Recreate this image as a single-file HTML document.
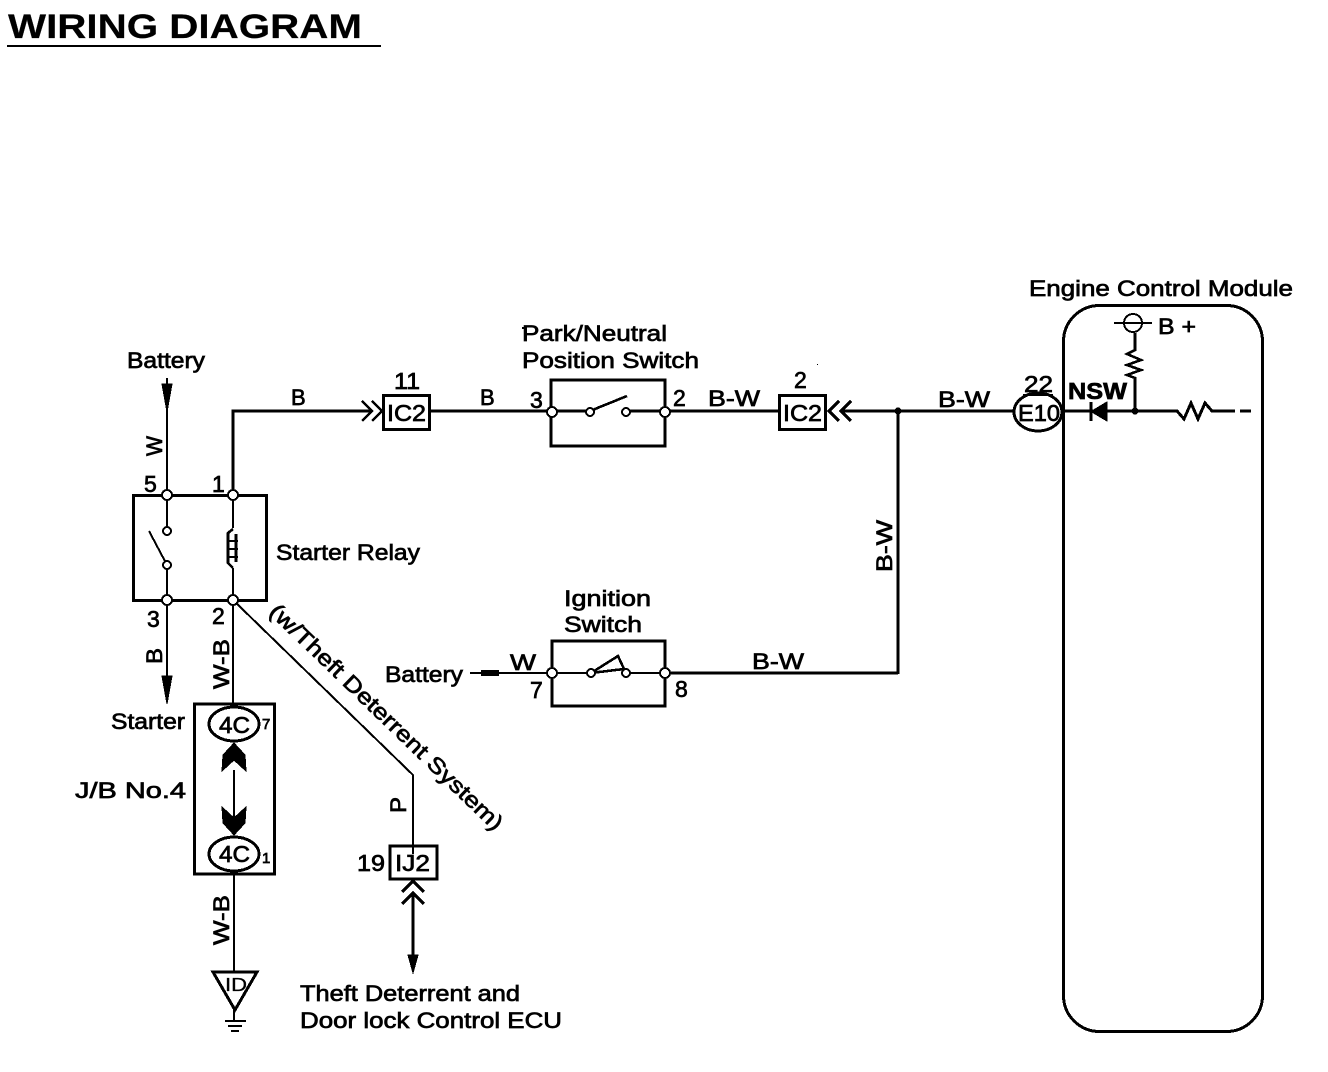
<!DOCTYPE html>
<html>
<head>
<meta charset="utf-8">
<style>
html,body{margin:0;padding:0;background:#fff;}
svg{display:block;}
text{font-family:"Liberation Sans",sans-serif;fill:#000;stroke:#000;stroke-width:.7px;}
.t{font-size:22px;}
.n{font-size:23px;}
.w{fill:none;stroke:#000;stroke-width:2;}
.m{fill:none;stroke:#000;stroke-width:2.6;}
.h{fill:none;stroke:#000;stroke-width:3;}
.c{fill:none;stroke:#000;stroke-width:3.4;}
.o{fill:#fff;stroke:#000;stroke-width:2;}
.e{fill:#fff;stroke:#000;stroke-width:3;}
.f{fill:#000;stroke:#000;stroke-width:1;}
</style>
</head>
<body>
<svg width="1328" height="1072" viewBox="0 0 1328 1072" xmlns="http://www.w3.org/2000/svg" shape-rendering="crispEdges">
<rect width="1328" height="1072" fill="#fff"/>

<!-- Title -->
<text x="8" y="38" font-size="34" font-weight="700" textLength="354" lengthAdjust="spacingAndGlyphs" style="stroke-width:.2px">WIRING DIAGRAM</text>
<path d="M7 46H381" class="w"/>

<!-- Specks -->
<rect x="522" y="327" width="2" height="2" fill="#000"/>
<rect x="817" y="364" width="1" height="1" fill="#000"/>

<!-- Theft branch (under the nodes) -->
<path d="M233 600L413 775V854" class="w"/>

<!-- Relay -->
<rect x="133.500" y="495.500" width="133" height="105" class="h"/>
<path d="M167 378V495M167 495V528M167 565V600M233 495V528M233 568V600M167 600V690M233 600V704M149 531L167 565" class="w"/>
<path d="M233 495V411H372" class="h"/>
<path d="M233 495V600" class="w" style="stroke-dasharray:33 40"/>
<path d="M362 401L372 411L362 421M372 401L382 411L372 421" class="m"/>
<path class="f" d="M162 384L172 384L167 412Z"/>
<path class="f" d="M162 676L172 676L167 704Z"/>
<path d="M233 529L228 533V563L233 568" class="m"/>
<path d="M236 534V562" class="m"/>
<path d="M228 541H238M228 549H238M228 557H238" class="w"/>
<circle cx="167" cy="531" r="4" class="o"/>
<circle cx="167" cy="565" r="4" class="o"/>
<circle cx="167" cy="495" r="5" class="o"/>
<circle cx="233" cy="495" r="5" class="o"/>
<circle cx="167" cy="600" r="5" class="o"/>
<circle cx="233" cy="600" r="5" class="o"/>

<text x="127" y="368" class="t" textLength="78" lengthAdjust="spacingAndGlyphs">Battery</text>
<text class="n" x="144" y="492">5</text>
<text class="n" x="212" y="492">1</text>
<text class="n" x="147" y="627">3</text>
<text class="n" x="212" y="624">2</text>
<text class="t" x="276" y="560" textLength="144" lengthAdjust="spacingAndGlyphs">Starter Relay</text>
<text class="t" transform="translate(162,456) rotate(-90)" textLength="20" lengthAdjust="spacingAndGlyphs">W</text>
<text class="t" transform="translate(162,664) rotate(-90)" textLength="16" lengthAdjust="spacingAndGlyphs">B</text>
<text class="t" transform="translate(229,689) rotate(-90)" textLength="50" lengthAdjust="spacingAndGlyphs">W-B</text>
<text class="t" x="111" y="729" textLength="74" lengthAdjust="spacingAndGlyphs">Starter</text>

<!-- Connector IC2 left -->
<rect x="383.500" y="395.500" width="46" height="34" class="h"/>
<text class="n" x="387" y="421" textLength="39" lengthAdjust="spacingAndGlyphs">IC2</text>
<text class="n" x="394" y="389" textLength="26" lengthAdjust="spacingAndGlyphs">11</text>
<text class="t" x="291" y="405">B</text>
<text class="t" x="480" y="405">B</text>
<path d="M430 411H551" class="h"/>

<!-- Park/Neutral -->
<path d="M551 411V380H665V411M551 411V446H665V411" class="h"/>
<path d="M551 411H590M590 411L627 396M626 411H665" class="m"/>
<circle cx="590" cy="412" r="4" class="o"/>
<circle cx="626" cy="412" r="4" class="o"/>
<circle cx="552" cy="412" r="5" class="o"/>
<circle cx="665" cy="412" r="5" class="o"/>
<text class="t" x="522" y="341" textLength="145" lengthAdjust="spacingAndGlyphs">Park/Neutral</text>
<text class="t" x="522" y="368" textLength="177" lengthAdjust="spacingAndGlyphs">Position Switch</text>
<text class="n" x="530" y="408">3</text>
<text class="n" x="673" y="406">2</text>
<text class="t" x="708" y="406" textLength="52" lengthAdjust="spacingAndGlyphs">B-W</text>
<path d="M670 411H779" class="h"/>

<!-- Connector IC2 right -->
<rect x="779.500" y="395.500" width="46" height="34" class="h"/>
<text class="n" x="783" y="421" textLength="39" lengthAdjust="spacingAndGlyphs">IC2</text>
<text class="n" x="794" y="388">2</text>
<path d="M839 401L829 411L839 421M851 401L841 411L851 421" class="h"/>
<path d="M841 411H1015" class="m"/>
<circle cx="898" cy="411" r="3.500" fill="#000"/>
<text class="t" x="938" y="407" textLength="52" lengthAdjust="spacingAndGlyphs">B-W</text>
<path d="M898 411V674" class="h"/>
<text class="t" transform="translate(892,572) rotate(-90)" textLength="52" lengthAdjust="spacingAndGlyphs">B-W</text>

<!-- Ignition -->
<path d="M552 673V641H665V673M552 673V706H665V673" class="h"/>
<path d="M470 673H590M625 673H665" class="w"/>
<path d="M591 673L618 656L624 669Z" class="m"/>
<path class="h" d="M666 673H898"/>
<rect x="481" y="670" width="18" height="6" fill="#000"/>
<circle cx="591" cy="673" r="4" class="o"/>
<circle cx="626" cy="673" r="4" class="o"/>
<circle cx="552" cy="673" r="5" class="o"/>
<circle cx="665" cy="673" r="5" class="o"/>
<text class="t" x="564" y="606" textLength="87" lengthAdjust="spacingAndGlyphs">Ignition</text>
<text class="t" x="564" y="632" textLength="78" lengthAdjust="spacingAndGlyphs">Switch</text>
<text class="t" x="385" y="682" textLength="78" lengthAdjust="spacingAndGlyphs">Battery</text>
<text class="t" x="510" y="670" textLength="26" lengthAdjust="spacingAndGlyphs">W</text>
<text class="n" x="530" y="698">7</text>
<text class="n" x="675" y="697">8</text>
<text class="t" x="752" y="669" textLength="52" lengthAdjust="spacingAndGlyphs">B-W</text>

<!-- J/B No.4 -->
<rect x="194.500" y="704" width="80" height="170" class="h"/>
<ellipse cx="234" cy="724" rx="25" ry="17" class="e"/>
<ellipse cx="234" cy="854" rx="25" ry="17" class="e"/>
<text class="n" x="219" y="733" textLength="31" lengthAdjust="spacingAndGlyphs">4C</text>
<text class="n" x="219" y="862" textLength="31" lengthAdjust="spacingAndGlyphs">4C</text>
<text x="262" y="729" font-size="15">7</text>
<text x="262" y="863" font-size="15">1</text>
<path d="M234 770V822" class="w"/>
<path class="f" d="M234 743L245 755L246 771L234 760L222 771L223 755Z"/>
<path class="f" d="M234 835L245 823L246 807L234 818L222 807L223 823Z"/>
<text class="t" x="75" y="798" textLength="111" lengthAdjust="spacingAndGlyphs">J/B No.4</text>

<!-- Ground -->
<path d="M234 874V972" class="w"/>
<text class="t" transform="translate(229,945) rotate(-90)" textLength="50" lengthAdjust="spacingAndGlyphs">W-B</text>
<path d="M213 972H257L235 1010Z" class="h"/>
<text x="225" y="991" font-size="18" textLength="22" lengthAdjust="spacingAndGlyphs" style="stroke-width:.3px">ID</text>
<path d="M234 1010V1020M225 1021H246M228 1026H242M231 1031H239" class="w"/>

<!-- Theft labels / connector -->
<text class="t" transform="translate(268,613) rotate(44)" textLength="315" lengthAdjust="spacingAndGlyphs">(w/Theft Deterrent System)</text>
<text class="t" transform="translate(406,813) rotate(-90)" textLength="16" lengthAdjust="spacingAndGlyphs">P</text>
<rect x="390" y="846" width="47" height="33" class="h"/>
<text class="n" x="395" y="871" textLength="35" lengthAdjust="spacingAndGlyphs">IJ2</text>
<text class="n" x="357" y="871" textLength="28" lengthAdjust="spacingAndGlyphs">19</text>
<path d="M402 892L413 881L424 892M402 904L413 893L424 904" class="h"/>
<path d="M413 894V956" class="m"/>
<path class="f" d="M408 955H418L413 973Z"/>
<text class="t" x="300" y="1001" textLength="220" lengthAdjust="spacingAndGlyphs">Theft Deterrent and</text>
<text class="t" x="300" y="1028" textLength="262" lengthAdjust="spacingAndGlyphs">Door lock Control ECU</text>

<!-- ECM -->
<rect x="1063.500" y="305.500" width="199" height="726" rx="36" ry="36" class="h"/>
<text class="t" x="1029" y="296" textLength="264" lengthAdjust="spacingAndGlyphs">Engine Control Module</text>
<ellipse cx="1038" cy="412" rx="24" ry="19" class="e"/>
<text class="n" x="1018" y="421" textLength="42" lengthAdjust="spacingAndGlyphs">E10</text>
<text class="n" x="1024" y="392" textLength="29" lengthAdjust="spacingAndGlyphs">22</text>
<path d="M1023 395H1053" class="w"/>
<text class="n" x="1068" y="399" textLength="59" lengthAdjust="spacingAndGlyphs" font-weight="700">NSW</text>
<path d="M1062 411H1177L1184 419L1191 403L1198 419L1205 403L1212 411H1235M1240 411H1251" class="h"/>
<path class="f" d="M1107 402V421L1091 411.500Z"/>
<path d="M1091 402V421" class="h"/>
<circle cx="1135" cy="411" r="3.500" fill="#000"/>
<path d="M1135 411V378L1127 375L1141 370L1127 365L1141 360L1127 354L1135 350V333" class="m"/>
<circle cx="1133" cy="323" r="9" class="o"/>
<path d="M1114 323H1152" class="w"/>
<text class="t" x="1158" y="334" textLength="38" lengthAdjust="spacingAndGlyphs">B +</text>
</svg>
</body>
</html>
